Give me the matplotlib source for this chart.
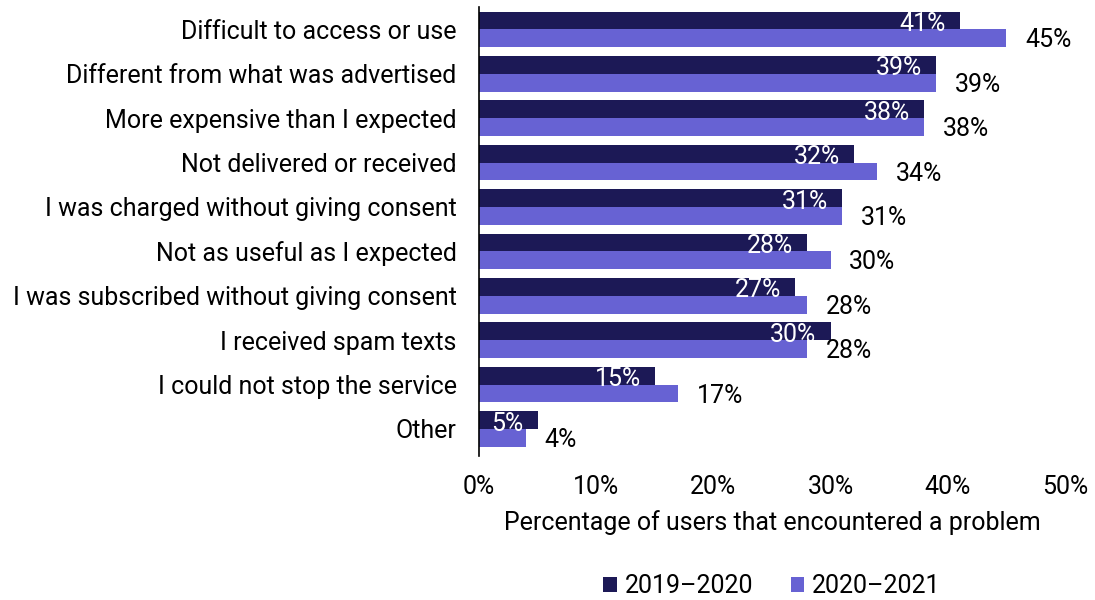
import matplotlib
matplotlib.use("Agg")
import matplotlib.pyplot as plt
import numpy as np

# Problems reported by users, top to bottom
categories = [
    "Difficult to access or use",
    "Different from what was advertised",
    "More expensive than I expected",
    "Not delivered or received",
    "I was charged without giving consent",
    "Not as useful as I expected",
    "I was subscribed without giving consent",
    "I received spam texts",
    "I could not stop the service",
    "Other",
]
pct_2019_2020 = [41, 39, 38, 32, 31, 28, 27, 30, 15, 5]
pct_2020_2021 = [45, 39, 38, 34, 31, 30, 28, 28, 17, 4]
series_labels = ["2019\u20132020", "2020\u20132021"]
x_ticks = [0, 10, 20, 30, 40, 50]

dark = "#1c1956"
purple = "#6762d3"
fs = 18

plt.rcParams["font.family"] = ["Roboto", "DejaVu Sans"]

fig = plt.figure(figsize=(10.95, 6.0), dpi=100)
ax = fig.add_axes([0.4374, 0.2407, 0.5352, 0.7473])

y = np.arange(len(categories))
h = 0.4

bars_a = ax.barh(y - h / 2, pct_2019_2020, height=h, color=dark, label=series_labels[0])
bars_b = ax.barh(y + h / 2, pct_2020_2021, height=h, color=purple, label=series_labels[1])

# older series: white value inside the bar end, newer series: black value past the bar end
for rect, v in zip(bars_a, pct_2019_2020):
    ax.text(v - 1.2, rect.get_y() + rect.get_height() * 0.7, f"{v}%",
            ha="right", va="center", color="white", fontsize=fs)
for rect, v in zip(bars_b, pct_2020_2021):
    ax.text(v + 1.6, rect.get_y() + rect.get_height() * 0.62, f"{v}%",
            ha="left", va="center", color="black", fontsize=fs)

ax.set_xlim(0, 50)
ax.set_ylim(len(categories) - 0.4, -0.5)
ax.set_xticks(x_ticks)
ax.set_xticklabels([f"{t}%" for t in x_ticks])
ax.set_yticks(y)
ax.set_yticklabels(categories)
ax.tick_params(axis="both", length=0, labelsize=fs)
ax.tick_params(axis="y", pad=16)
ax.tick_params(axis="x", pad=14)

for side in ["top", "right", "bottom"]:
    ax.spines[side].set_visible(False)
ax.spines["left"].set_color("black")
ax.spines["left"].set_linewidth(1.2)

ax.set_xlabel("Percentage of users that encountered a problem", fontsize=fs, labelpad=8)

ax.legend(loc="upper center", bbox_to_anchor=(0.5, -0.215), ncol=2, frameon=False,
          fontsize=fs, handlelength=0.55, handleheight=0.55, handletextpad=0.3,
          columnspacing=1.5)

fig.savefig("out.png", dpi=100)
